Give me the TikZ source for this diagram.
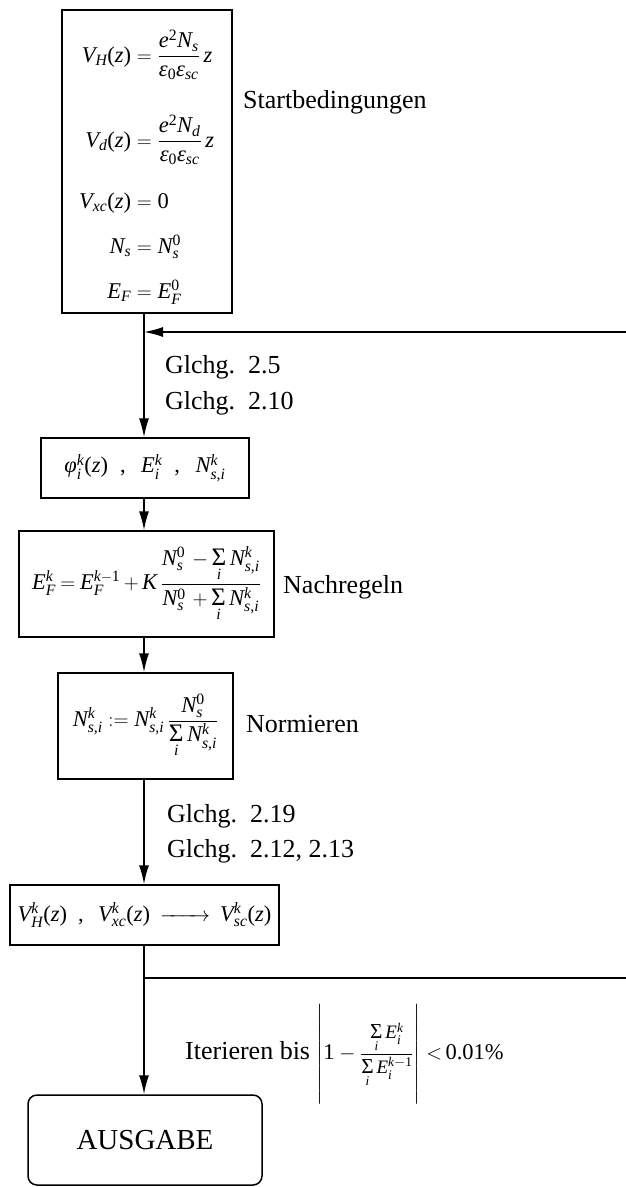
\documentclass[tikz,border=0pt]{standalone}
\usepackage{amsmath}
\usepackage[no-math]{fontspec}
\setmainfont{Liberation Serif}
\newfontfamily\libit[NFSSFamily=libser]{Liberation Serif}
\DeclareSymbolFont{tlet}{TU}{libser}{m}{it}
\DeclareSymbolFont{tnum}{TU}{libser}{m}{n}
\newcount\tlc
\AtBeginDocument{%
\tlc=`a \loop \Umathcode\tlc=0 \symtlet \tlc \ifnum\tlc<`z \advance\tlc 1 \repeat
\tlc=`A \loop \Umathcode\tlc=0 \symtlet \tlc \ifnum\tlc<`Z \advance\tlc 1 \repeat
\tlc=`0 \loop \Umathcode\tlc=0 \symtnum \tlc \ifnum\tlc<`9 \advance\tlc 1 \repeat
\Umathcode`.=0 \symtnum `.
\Umathcode`,=6 \symtnum `,
\Umathcode`(=4 \symtnum `(
\Umathcode`)=5 \symtnum `)
\Umathcode`\%=0 \symtnum `\%
\Umathchardef\varepsilon=0 \symtlet "03B5
\Umathchardef\phi=0 \symtlet "03C6
}
\newcommand\Tsum{\mathop{\text{\scalebox{1.12}{Σ}}}\limits}
\newcommand\mfont{\fontsize{22.5}{27}\selectfont}
\usetikzlibrary{arrows.meta}
\begin{document}
\begin{tikzpicture}[x=1pt,y=-1pt,
  box/.style={draw,line width=1.5pt,inner sep=0pt,anchor=center,font=\mfont},
  lbl/.style={anchor=base west,inner sep=0pt},
  mlbl/.style={anchor=base west,inner sep=0pt,font=\mfont},
  arr/.style={line width=1.5pt,-{Latex[length=19pt,width=10pt]}},
  ln/.style={line width=1.5pt},
  every node/.style={font=\fontsize{26}{31}\selectfont}]
\useasboundingbox (0,0) rectangle (626,1187);
% boxes
\node[box,minimum width=170pt,minimum height=303pt] (b1) at (147,161.5) {};
\node[box,minimum width=208pt,minimum height=60pt] (b2) at (145,468)
  {$\phi_i^k(z)\hspace{12pt},\hspace{12pt}E_i^k\hspace{12pt},\hspace{12pt}N_{s,i}^k$};
\node[box,minimum width=255pt,minimum height=106pt] (b3) at (146.5,584)
  {$\thickmuskip=4mu \medmuskip=3mu E_F^k = E_F^{k-1} + K\,\dfrac{N_s^0\, - \Tsum_i N_{s,i}^k}{N_s^0\, + \Tsum_i N_{s,i}^k}$};
\node[box,minimum width=175pt,minimum height=106pt] (b4) at (145.5,726)
  {$N_{s,i}^k := N_{s,i}^k\,\dfrac{N_s^0}{\Tsum_i N_{s,i}^k}$};
\node[box,minimum width=269pt,minimum height=60pt] (b5) at (144.5,915)
  {$V_H^k(z)\hspace{11pt},\hspace{11pt}V_{xc}^k(z)\hspace{10pt}\makebox[50pt]{\rightarrowfill}\hspace{10pt}V_{sc}^k(z)$};
\node[box,rounded corners=9pt,minimum width=234pt,minimum height=90pt,
  font=\fontsize{29}{34}\selectfont] (out) at (145,1140) {AUSGABE};
% equations in start box
\node[mlbl] (e1) at (76,62) {\makebox[55pt][r]{$V_H(z)$}${}={}\dfrac{e^2N_s}{\varepsilon_0\varepsilon_{sc}}\,z$};
\node[mlbl] (e2) at (76,147) {\makebox[55pt][r]{$V_d(z)$}${}={}\dfrac{e^2N_d}{\varepsilon_0\varepsilon_{sc}}\,z$};
\node[mlbl] (e3) at (76,208) {\makebox[55pt][r]{$V_{xc}(z)$}${}={}0$};
\node[mlbl] (e4) at (76,253) {\makebox[55pt][r]{$N_s$}${}={}N_s^0$};
\node[mlbl] (e5) at (76,298) {\makebox[55pt][r]{$E_F$}${}={}E_F^0$};
% labels
\node[lbl] (t1) at (243,108) {Startbedingungen};
\node[lbl] (g1) at (165,373) {Glchg.\ \ 2.5};
\node[lbl] (g2) at (165,409) {Glchg.\ \ 2.10};
\node[lbl] (t2) at (283,593) {Nachregeln};
\node[lbl] (t3) at (246,732) {Normieren};
\node[lbl] (g3) at (167,822) {Glchg.\ \ 2.19};
\node[lbl] (g4) at (167,857) {Glchg.\ \ 2.12, 2.13};
\node[lbl] (it) at (185,1059) {Iterieren bis {\mfont$\left|\rule[-33pt]{0pt}{85pt}1-\mbox{\fontsize{19}{22}\selectfont$\dfrac{\Tsum_i E_i^k}{\Tsum_i E_i^{k-1}}$}\right|\mkern2mu{<}\mkern3mu 0.01\%$}};
% connectors
\coordinate (j1) at (144,332);
\coordinate (r1) at (626,332);
\coordinate (j2) at (144,978);
\coordinate (r2) at (626,978);
\draw[ln] (b1.south -| j1) -- (j1);
\draw[arr] (j1) -- (b2.north -| j1);
\draw[arr] (r1) -- (j1);
\draw[arr] (b2.south -| j1) -- (b3.north -| j1);
\draw[arr] (b3.south -| j1) -- (b4.north -| j1);
\draw[arr] (b4.south -| j1) -- (b5.north -| j1);
\draw[arr] (b5.south -| j1) -- (out.north -| j1);
\draw[ln] (j2) -- (r2);
\end{tikzpicture}
\end{document}
